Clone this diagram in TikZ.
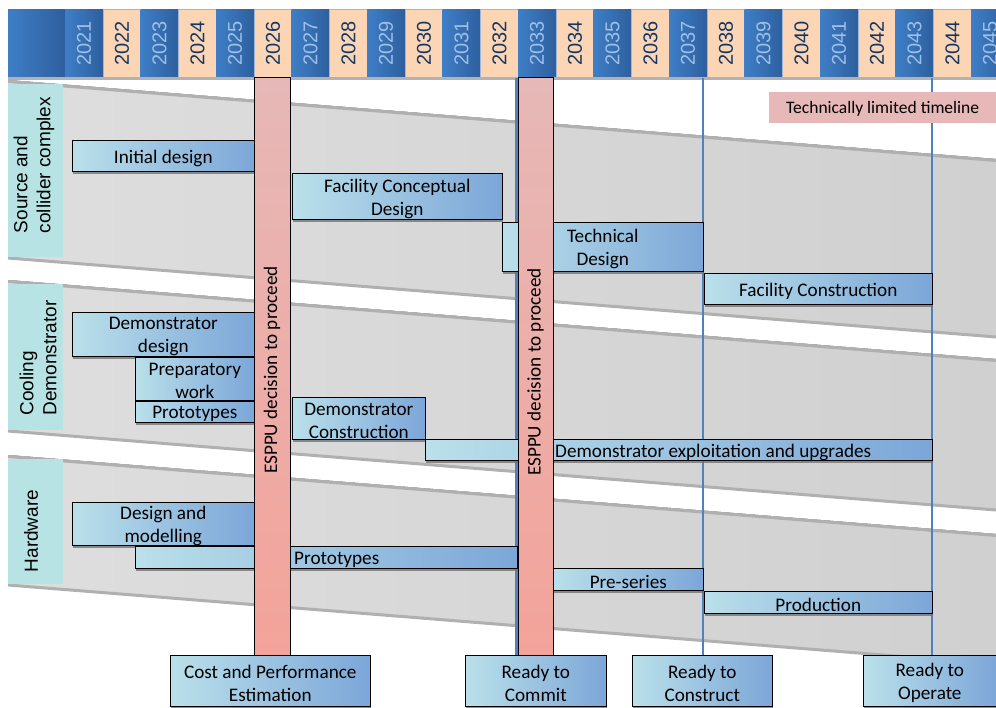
\documentclass[tikz,border=0pt]{standalone}
\usepackage{fontspec}
\setmainfont{Carlito}
\newfontfamily\arialfont{Liberation Sans}
\usetikzlibrary{shadows,fit}
\definecolor{tbL}{RGB}{186,224,234}
\definecolor{tbR}{RGB}{124,166,216}
\definecolor{hdrL}{RGB}{62,126,198}
\definecolor{hdrR}{RGB}{46,95,158}
\definecolor{peach}{RGB}{252,213,181}
\definecolor{cellEdge}{RGB}{160,182,212}
\definecolor{yrLight}{RGB}{157,192,232}
\definecolor{yrDark}{RGB}{20,55,100}
\definecolor{lblteal}{RGB}{184,227,228}
\definecolor{redT}{RGB}{230,184,183}
\definecolor{redB}{RGB}{243,163,154}
\definecolor{msblue}{RGB}{79,129,189}
\definecolor{bandL}{RGB}{222,222,222}
\definecolor{bandR}{RGB}{208,208,208}
\definecolor{bandEdge}{RGB}{176,176,176}
\tikzset{
  taskbar/.style={draw=black, line width=0.6pt, left color=tbL, right color=tbR, inner sep=0pt, drop shadow={shadow xshift=1pt, shadow yshift=-2.5pt, fill=black!55, opacity=0.8}},
  milestone/.style={taskbar},
  boxtext/.style={inner sep=0pt, align=center, font=\fontsize{19.2}{23}\selectfont},
  notetext/.style={inner sep=0pt, align=center, font=\fontsize{17.5}{21}\selectfont},
  oddcell/.style={anchor=north west, minimum width=37.75pt, minimum height=68pt, inner sep=0pt, left color=hdrL, right color=hdrR},
  evencell/.style={anchor=north west, minimum width=37.75pt, minimum height=68pt, inner sep=0pt, fill=peach, draw=cellEdge, line width=0.6pt},
  yeartxt/.style={rotate=90, font=\arialfont\fontsize{20}{24}\selectfont, inner sep=0pt},
  band/.style={left color=bandL, right color=bandR},
  bandedge/.style={draw=bandEdge, line width=3pt},
  rowlabel/.style={fill=lblteal, inner sep=0pt},
  rowtxt/.style={rotate=90, align=left, inner sep=0pt, font=\arialfont\fontsize{19}{23}\selectfont},
  redbar/.style={draw=black, line width=0.8pt, top color=redT, bottom color=redB, inner sep=0pt},
  redtxt/.style={rotate=90, inner sep=0pt, font=\fontsize{19.2}{23}\selectfont},
  msline/.style={draw=msblue, line width=2.5pt},
  notebox/.style={fill=redT, inner sep=0pt},
  bartxt/.style={anchor=west, inner sep=0pt, font=\fontsize{19.2}{23}\selectfont},
}
% [box style]{name}{x1}{y1}{x2}{y2}{text}[text style]
\newcommand{\mytbox}[7][taskbar]{%
  \node[#1, anchor=north west, minimum width={#5pt-#3pt}, minimum height={#6pt-#4pt}] (#2) at (#3,#4) {};
  \node[boxtext] (#2-t) at ([yshift=-2.5pt]#2.center) {#7};}
\begin{document}
\begin{tikzpicture}[x=1pt,y=-1pt]
\useasboundingbox (0,0) rectangle (996,707);
% bands
\fill[band] (8,80) -- (996,159) -- (996,336) -- (8,257) -- cycle;
\fill[band] (8,280) -- (996,359) -- (996,509) -- (8,430) -- cycle;
\fill[band] (8,455) -- (996,534) -- (996,663) -- (8,584) -- cycle;
\draw[bandedge] (8,81.5) -- (996,160.5);
\draw[bandedge] (8,258) -- (996,337);
\draw[bandedge] (8,281.5) -- (996,360.5);
\draw[bandedge] (8,431) -- (996,510);
\draw[bandedge] (8,456.5) -- (996,535.5);
\draw[bandedge] (8,585) -- (996,664);
% row labels
\node[rowlabel, fit={(8,83.5) (63,256.5)}] (lbl1) {};
\node[rowlabel, fit={(8,283.5) (63,429.5)}] (lbl2) {};
\node[rowlabel, fit={(8,458.5) (63,583.5)}] (lbl3) {};
\node[rowtxt] (lbl1t) at (34,165) {Source and\\collider complex};
\node[rowtxt] (lbl2t) at (38,358) {Cooling\\Demonstrator};
\node[rowtxt] (lbl3t) at (31,531) {Hardware};
% header
\node[oddcell, minimum width=57pt] (c0) at (8,9) {};
\foreach \i in {0,...,24}{%
  \pgfmathtruncatemacro{\yr}{2021+\i}%
  \pgfmathsetmacro{\xx}{65+\i*37.75}%
  \ifodd\yr
    \node[oddcell] (c\yr) at (\xx,9) {};
    \node[yeartxt, text=yrLight] (t\yr) at (c\yr.center) {\yr};
  \else
    \node[evencell] (c\yr) at (\xx,9) {};
    \node[yeartxt, text=yrDark] (t\yr) at (c\yr.center) {\yr};
  \fi
}
\fill[black!30] (8,77) rectangle (996,80);
% milestone boxes
\mytbox[milestone]{cost}{170}{655}{370}{706}{Cost and Performance\\Estimation}
\mytbox[milestone]{commit}{465}{655}{606}{706}{Ready to\\Commit}
\mytbox[milestone]{construct}{632}{655}{772}{706}{Ready to\\Construct}
\mytbox[milestone]{operate}{863}{655}{996}{706}{Ready to\\Operate}
% milestone lines
\coordinate (lt1) at (516.5,78);
\coordinate (lt2) at (703,78);
\coordinate (lt3) at (932,78);
\draw[msline] (lt1) -- (lt1 |- commit.north);
\draw[msline] (lt2) -- (lt2 |- construct.north);
\draw[msline] (lt3) -- (lt3 |- operate.north);
% row 1 tasks
\mytbox{init}{72}{140}{254}{171}{Initial design}
\mytbox{fcd}{292}{173}{502}{219}{Facility Conceptual\\Design}
\mytbox{tdes}{502}{222}{703}{271}{Technical\\Design}
\mytbox{fcon}{704}{273}{932}{304}{Facility Construction}
% row 2 tasks
\mytbox{ddes}{72}{312}{254}{356}{Demonstrator\\design}
\mytbox{prep}{135}{357}{254}{400}{Preparatory\\work}
\mytbox{proto}{135}{401}{254}{422}{Prototypes}
\mytbox{dcon}{292}{397}{425}{439}{Demonstrator\\Construction}
\node[taskbar, anchor=north west, minimum width=507pt, minimum height=21pt] (dexp) at (425,439) {};
\node[bartxt] (dexpt) at (555,452.5) {Demonstrator exploitation and upgrades};
% row 3 tasks
\mytbox{dmod}{72}{502}{254}{545}{Design and\\modelling}
\node[taskbar, anchor=north west, minimum width=382pt, minimum height=22pt] (proto3) at (135,546) {};
\node[bartxt] (proto3t) at (294,560) {Prototypes};
\mytbox{pres}{553}{568}{703}{590}{Pre-series}
\mytbox{prod}{704}{591}{932}{613}{Production}
% ESPPU bars
\node[redbar, fit={(254,77.5) (290,655)}] (esppuA) {};
\node[redtxt] (esppuAt) at (272,370) {ESPPU decision to proceed};
\node[redbar, fit={(518,77.5) (553,655)}] (esppuB) {};
\node[redtxt] (esppuBt) at (535.5,372) {ESPPU decision to proceed};
% note
\node[notebox, anchor=north west, minimum width=227pt, minimum height=31pt] (note) at (769,92) {};
\node[notetext] (note-t) at ([yshift=-1pt]note.center) {Technically limited timeline};
\end{tikzpicture}
\end{document}
